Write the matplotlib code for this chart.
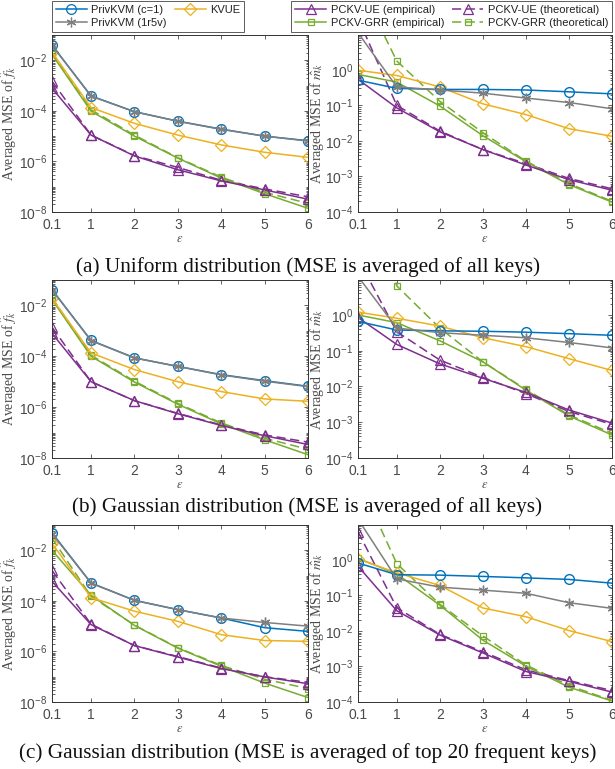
import matplotlib
matplotlib.use("Agg")
import matplotlib.pyplot as plt
from matplotlib.lines import Line2D
from matplotlib.ticker import LogLocator, NullFormatter

plt.rcParams['font.family'] = ['Liberation Sans', 'DejaVu Sans']
plt.rcParams['mathtext.fontset'] = 'stix'

eps = [0.1, 1, 2, 3, 4, 5, 6]
eps_labels = ['0.1', '1', '2', '3', '4', '5', '6']

# ---- (a) Uniform, all keys ----
a_f_c1 = [0.04, 3.9e-4, 9.3e-5, 3.9e-5, 1.9e-5, 1.0e-5, 6.6e-6]
a_f_1r5v = [0.039, 3.8e-4, 9.2e-5, 3.9e-5, 1.85e-5, 1.0e-5, 6.4e-6]
a_f_kvue = [0.021, 1.35e-4, 3.2e-5, 1.1e-5, 4.5e-6, 2.3e-6, 1.45e-6]
a_f_ue_emp = [7.9e-4, 1.1e-5, 1.65e-6, 4.7e-7, 1.7e-7, 7.5e-8, 3.2e-8]
a_f_ue_th = [1.5e-3, 1.1e-5, 1.7e-6, 5.8e-7, 1.8e-7, 8.2e-8, 4.0e-8]
a_f_grr_emp = [0.017, 9.7e-5, 1.0e-5, 1.35e-6, 2.2e-7, 5.3e-8, 1.4e-8]
a_f_grr_th = [0.02, 1.1e-4, 1.1e-5, 1.4e-6, 2.4e-7, 6.0e-8, 2.2e-8]

a_m_c1 = [0.51, 0.30, 0.28, 0.28, 0.27, 0.24, 0.21]
a_m_1r5v = [11, 0.33, 0.27, 0.22, 0.16, 0.12, 0.08]
a_m_kvue = [0.97, 0.69, 0.33, 0.11, 0.055, 0.022, 0.0135]
a_m_ue_emp = [0.54, 0.085, 0.018, 5.7e-3, 2.1e-3, 8.1e-4, 4.1e-4]
a_m_ue_th = [28, 0.1, 0.019, 5.7e-3, 2.3e-3, 8.8e-4, 4.5e-4]
a_m_grr_emp = [0.74, 0.45, 0.096, 0.014, 2.6e-3, 5.9e-4, 1.9e-4]
a_m_grr_th = [300, 1.77, 0.13, 0.017, 2.7e-3, 6.3e-4, 2.0e-4]

# ---- (b) Gaussian, all keys ----
b_f_c1 = [0.042, 4.2e-4, 8.7e-5, 4.0e-5, 1.9e-5, 1.1e-5, 6.6e-6]
b_f_1r5v = [0.041, 4.1e-4, 8.6e-5, 4.0e-5, 1.85e-5, 1.05e-5, 6.4e-6]
b_f_kvue = [0.019, 1.35e-4, 3.0e-5, 1.0e-5, 4.1e-6, 2.1e-6, 1.7e-6]
b_f_ue_emp = [8e-4, 1.0e-5, 1.8e-6, 5.5e-7, 1.9e-7, 7.5e-8, 3.4e-8]
b_f_ue_th = [1.4e-3, 1.0e-5, 1.8e-6, 5.7e-7, 2.0e-7, 8.1e-8, 4.2e-8]
b_f_grr_emp = [0.017, 1.0e-4, 9.7e-6, 1.3e-6, 2.2e-7, 5.2e-8, 1.35e-8]
b_f_grr_th = [0.02, 1.1e-4, 1.05e-5, 1.4e-6, 2.4e-7, 6.0e-8, 2.2e-8]

b_m_c1 = [0.66, 0.38, 0.36, 0.35, 0.33, 0.30, 0.27]
b_m_1r5v = [12, 0.43, 0.32, 0.27, 0.23, 0.17, 0.12]
b_m_kvue = [1.2, 0.81, 0.49, 0.23, 0.13, 0.06, 0.028]
b_m_ue_emp = [0.85, 0.15, 0.043, 0.017, 6.8e-3, 2.2e-3, 9.5e-4]
b_m_ue_th = [38, 0.34, 0.055, 0.018, 6.3e-3, 2.0e-3, 8.7e-4]
b_m_grr_emp = [1.0, 0.61, 0.19, 0.049, 7.9e-3, 1.5e-3, 4.4e-4]
b_m_grr_th = [1e5, 6.5, 0.43, 0.049, 8.3e-3, 1.6e-3, 4.9e-4]

# ---- (c) Gaussian, top 20 keys ----
c_f_c1 = [0.049, 5.1e-4, 1.05e-4, 4.5e-5, 2.1e-5, 8.7e-6, 6.2e-6]
c_f_1r5v = [0.046, 5.0e-4, 1.04e-4, 4.5e-5, 2.1e-5, 1.4e-5, 1.0e-5]
c_f_kvue = [0.019, 1.34e-4, 3.9e-5, 1.55e-5, 4.6e-6, 2.7e-6, 2.5e-6]
c_f_ue_emp = [5.9e-4, 1.15e-5, 1.7e-6, 6.0e-7, 2.1e-7, 9.8e-8, 5.3e-8]
c_f_ue_th = [1.6e-3, 1.2e-5, 1.7e-6, 6.3e-7, 2.2e-7, 1.0e-7, 6.0e-8]
c_f_grr_emp = [0.01, 1.66e-4, 1.07e-5, 1.35e-6, 2.6e-7, 5.6e-8, 1.5e-8]
c_f_grr_th = [0.03, 1.5e-4, 1.1e-5, 1.4e-6, 2.8e-7, 8.0e-8, 3.4e-8]

c_m_c1 = [0.81, 0.38, 0.37, 0.34, 0.31, 0.28, 0.22]
c_m_1r5v = [14, 0.29, 0.17, 0.14, 0.114, 0.062, 0.043]
c_m_kvue = [1.05, 0.43, 0.19, 0.044, 0.025, 0.0102, 5e-3]
c_m_ue_emp = [0.66, 0.037, 7.7e-3, 2.4e-3, 7.2e-4, 3.8e-4, 1.9e-4]
c_m_ue_th = [6.2, 0.045, 8e-3, 2.6e-3, 8e-4, 4e-4, 2.1e-4]
c_m_grr_emp = [1.1, 0.4, 0.053, 5.5e-3, 1.02e-3, 2.6e-4, 1.07e-4]
c_m_grr_th = [190, 0.78, 0.056, 7.2e-3, 1.1e-3, 2.9e-4, 1.1e-4]

captions = ['(a) Uniform distribution (MSE is averaged of all keys)',
            '(b) Gaussian distribution (MSE is averaged of all keys)',
            '(c) Gaussian distribution (MSE is averaged of top 20 frequent keys)']

BLUE = '#0072BD'
GRAY = '#7f7f7f'
YELLOW = '#EDB120'
PURPLE = '#7E2F8E'
GREEN = '#77AC30'
TXT = '#4a4a4a'
ASTER = (6, 2, 0)  # matlab-like '*' marker


def draw(ax, c1, r5v, kvue, ue_emp, ue_th, grr_emp, grr_th):
    lw = 1.1
    ax.plot(eps, grr_th, color=GREEN, ls=(0, (6, 3)), lw=lw, marker='s', ms=5, mfc='none', mew=0.9)
    ax.plot(eps, ue_th, color=PURPLE, ls=(0, (6, 3)), lw=lw, marker='^', ms=7, mfc='none', mew=0.9)
    ax.plot(eps, grr_emp, color=GREEN, lw=lw, marker='s', ms=5, mfc='none', mew=0.9)
    ax.plot(eps, ue_emp, color=PURPLE, lw=lw, marker='^', ms=7, mfc='none', mew=0.9)
    ax.plot(eps, kvue, color=YELLOW, lw=lw, marker='D', ms=6, mfc='none', mew=0.9)
    ax.plot(eps, c1, color=BLUE, lw=lw, marker='o', ms=7, mfc='none', mew=1.0)
    ax.plot(eps, r5v, color=GRAY, lw=lw, marker=ASTER, ms=7, mew=1.0)
    ax.set_yscale('log')
    ax.set_xlim(0.1, 6)
    ax.set_xticks(eps)
    ax.set_xticklabels(eps_labels)
    ax.tick_params(direction='in', top=True, right=True, labelsize=10, colors=TXT,
                   length=3, width=0.6, which='both')
    ax.tick_params(axis='x', pad=4)
    ax.tick_params(which='minor', length=1.8)
    for s in ax.spines.values():
        s.set_color('#333333')
        s.set_linewidth(0.7)
    ax.set_xlabel(r'$\epsilon$', fontsize=9, color=TXT, labelpad=1)


fig = plt.figure(figsize=(6.15, 7.69), dpi=100)
W, H = 615.0, 769.0
rows = [(35, 212), (280, 458), (525, 702)]
cap_y = [267, 507, 753]
data = [
    ((a_f_c1, a_f_1r5v, a_f_kvue, a_f_ue_emp, a_f_ue_th, a_f_grr_emp, a_f_grr_th),
     (a_m_c1, a_m_1r5v, a_m_kvue, a_m_ue_emp, a_m_ue_th, a_m_grr_emp, a_m_grr_th)),
    ((b_f_c1, b_f_1r5v, b_f_kvue, b_f_ue_emp, b_f_ue_th, b_f_grr_emp, b_f_grr_th),
     (b_m_c1, b_m_1r5v, b_m_kvue, b_m_ue_emp, b_m_ue_th, b_m_grr_emp, b_m_grr_th)),
    ((c_f_c1, c_f_1r5v, c_f_kvue, c_f_ue_emp, c_f_ue_th, c_f_grr_emp, c_f_grr_th),
     (c_m_c1, c_m_1r5v, c_m_kvue, c_m_ue_emp, c_m_ue_th, c_m_grr_emp, c_m_grr_th)),
]

for i, (top, bot) in enumerate(rows):
    b = 1 - bot / H
    h = (bot - top) / H
    axl = fig.add_axes([52 / W, b, 256 / W, h])
    axr = fig.add_axes([358 / W, b, 254 / W, h])
    draw(axl, *data[i][0])
    draw(axr, *data[i][1])

    axl.set_ylim(1e-8, 1e-1)
    axl.set_yticks([1e-8, 1e-6, 1e-4, 1e-2])
    axl.yaxis.set_minor_locator(LogLocator(base=10, subs='all', numticks=20))
    axl.yaxis.set_minor_formatter(NullFormatter())
    axl.set_ylabel(r'Averaged MSE of $\hat{f}_k$', family='Liberation Serif',
                   fontsize=10, color=TXT)
    axl.yaxis.set_label_coords(-0.13, 0.5)

    axr.set_ylim(1e-4, 9.5)
    axr.set_yticks([1e-4, 1e-3, 1e-2, 1e-1, 1e0])
    axr.yaxis.set_minor_locator(LogLocator(base=10, subs='all', numticks=20))
    axr.yaxis.set_minor_formatter(NullFormatter())
    axr.set_ylabel(r'Averaged MSE of $\hat{m}_k$', family='Liberation Serif',
                   fontsize=10, color=TXT)
    axr.yaxis.set_label_coords(-0.125, 0.5)

    fig.text(0.5, 1 - cap_y[i] / H, captions[i], ha='center', va='center',
             family='Liberation Serif', fontsize=15.3, color='#111111')

# legends
def handle(color, marker, ms, ls='-'):
    return Line2D([], [], color=color, lw=1.1, ls=ls, marker=marker, ms=ms, mfc='none', mew=0.9)

h1 = [handle(BLUE, 'o', 7), handle(GRAY, ASTER, 7), handle(YELLOW, 'D', 6)]
l1 = ['PrivKVM (c=1)', 'PrivKVM (1r5v)', 'KVUE']
h2 = [handle(PURPLE, '^', 7), handle(GREEN, 's', 5),
      handle(PURPLE, '^', 7, (0, (6, 3))), handle(GREEN, 's', 5, (0, (6, 3)))]
l2 = ['PCKV-UE (empirical)', 'PCKV-GRR (empirical)',
      'PCKV-UE (theoretical)', 'PCKV-GRR (theoretical)']

leg_kw = dict(ncol=2, fontsize=8, frameon=True, fancybox=False, edgecolor='#333333',
              handlelength=2.8, handletextpad=0.4, columnspacing=0.7, borderpad=0.35,
              labelspacing=0.25, borderaxespad=0)
lg1 = fig.legend(h1, l1, loc='upper left', bbox_to_anchor=(52 / W, 1 - 1 / H), **leg_kw)
lg2 = fig.legend(h2, l2, loc='upper right', bbox_to_anchor=(612 / W, 1 - 1 / H), **leg_kw)
for lg in (lg1, lg2):
    lg.get_frame().set_linewidth(0.7)
    for t in lg.get_texts():
        t.set_color('#222222')

fig.savefig('out.png', dpi=100)
